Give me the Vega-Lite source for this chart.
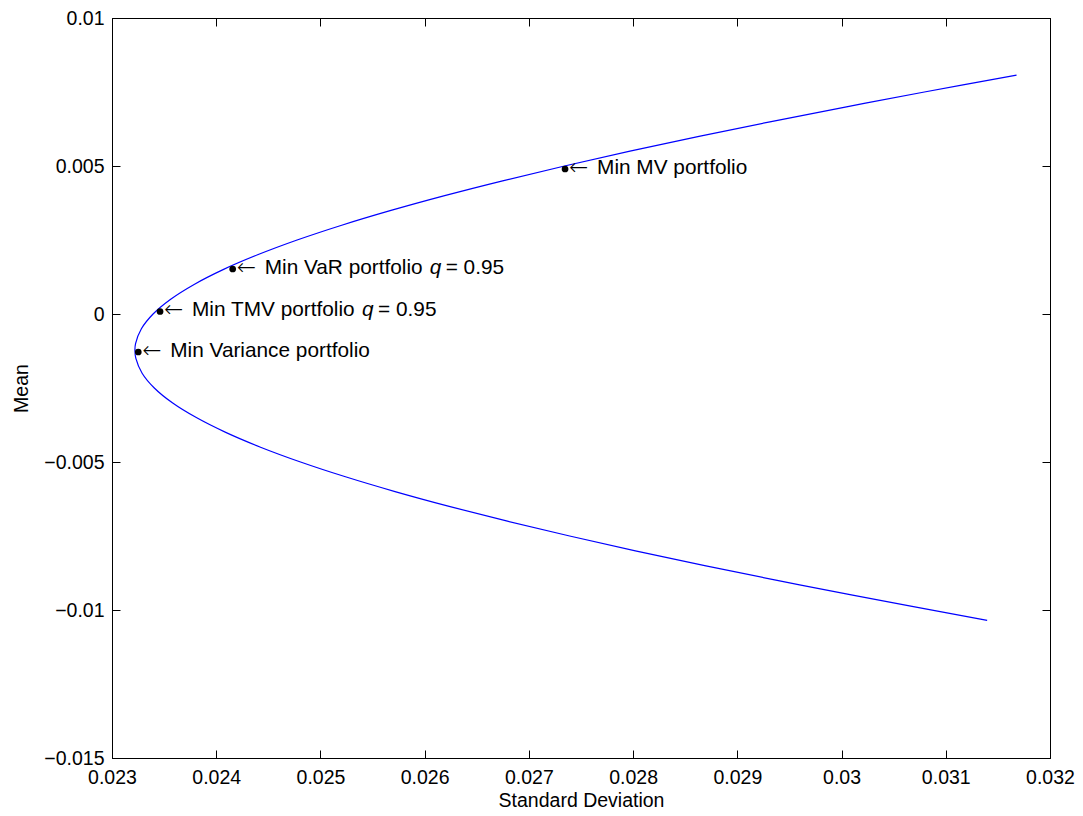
{
  "$schema": "https://vega.github.io/schema/vega-lite/v6.json",
  "width": 938,
  "height": 740,
  "autosize": {"type": "none"},
  "padding": {"left": 112, "top": 18, "right": 33, "bottom": 58},
  "background": "white",
  "config": {
    "view": {"stroke": "black", "strokeWidth": 1},
    "font": "Liberation Sans",
    "axis": {
      "domainColor": "black",
      "tickColor": "black",
      "labelColor": "black",
      "titleColor": "black",
      "labelFont": "Liberation Sans",
      "titleFont": "Liberation Sans",
      "labelFontSize": 19.5,
      "titleFontSize": 19.5,
      "titleFontWeight": "normal",
      "grid": false,
      "tickSize": -8,
      "labelPadding": 16
    }
  },
  "datasets": {
    "curve": [
      {"i": 1, "sd": 0.031397, "mean": -0.01035},
      {"i": 2, "sd": 0.030106, "mean": -0.0095},
      {"i": 3, "sd": 0.029382, "mean": -0.009},
      {"i": 4, "sd": 0.028687, "mean": -0.0085},
      {"i": 5, "sd": 0.028022, "mean": -0.008},
      {"i": 6, "sd": 0.027391, "mean": -0.0075},
      {"i": 7, "sd": 0.026794, "mean": -0.007},
      {"i": 8, "sd": 0.026235, "mean": -0.0065},
      {"i": 9, "sd": 0.025716, "mean": -0.006},
      {"i": 10, "sd": 0.025240, "mean": -0.0055},
      {"i": 11, "sd": 0.024809, "mean": -0.005},
      {"i": 12, "sd": 0.024425, "mean": -0.0045},
      {"i": 13, "sd": 0.024091, "mean": -0.004},
      {"i": 14, "sd": 0.023809, "mean": -0.0035},
      {"i": 15, "sd": 0.023579, "mean": -0.003},
      {"i": 16, "sd": 0.023406, "mean": -0.0025},
      {"i": 17, "sd": 0.023289, "mean": -0.002},
      {"i": 18, "sd": 0.023229, "mean": -0.0015},
      {"i": 19, "sd": 0.023220, "mean": -0.00123},
      {"i": 20, "sd": 0.023226, "mean": -0.001},
      {"i": 21, "sd": 0.023282, "mean": -0.0005},
      {"i": 22, "sd": 0.023394, "mean": 0.0},
      {"i": 23, "sd": 0.023563, "mean": 0.0005},
      {"i": 24, "sd": 0.023788, "mean": 0.001},
      {"i": 25, "sd": 0.024066, "mean": 0.0015},
      {"i": 26, "sd": 0.024397, "mean": 0.002},
      {"i": 27, "sd": 0.024776, "mean": 0.0025},
      {"i": 28, "sd": 0.025204, "mean": 0.003},
      {"i": 29, "sd": 0.025677, "mean": 0.0035},
      {"i": 30, "sd": 0.026192, "mean": 0.004},
      {"i": 31, "sd": 0.026748, "mean": 0.0045},
      {"i": 32, "sd": 0.027342, "mean": 0.005},
      {"i": 33, "sd": 0.027970, "mean": 0.0055},
      {"i": 34, "sd": 0.028632, "mean": 0.006},
      {"i": 35, "sd": 0.029325, "mean": 0.0065},
      {"i": 36, "sd": 0.030047, "mean": 0.007},
      {"i": 37, "sd": 0.030795, "mean": 0.0075},
      {"i": 38, "sd": 0.031679, "mean": 0.00807}
    ],
    "pts": [
      {"name": "MV", "sd": 0.027347, "mean": 0.004899, "label": "Min MV portfolio"},
      {"name": "VaR", "sd": 0.024158, "mean": 0.00152, "label": "Min VaR portfolio"},
      {"name": "TMV", "sd": 0.023461, "mean": 0.0000845, "label": "Min TMV portfolio"},
      {"name": "MinVar", "sd": 0.023252, "mean": -0.001284, "label": "Min Variance portfolio"}
    ]
  },
  "resolve": {"axis": {"x": "independent", "y": "independent"}},
  "layer": [
    {
      "data": {"name": "curve"},
      "mark": {"type": "line", "color": "#0000ff", "strokeWidth": 1.2, "interpolate": "catmull-rom", "clip": true},
      "encoding": {
        "x": {
          "field": "sd", "type": "quantitative",
          "scale": {"domain": [0.023, 0.032], "nice": false, "zero": false},
          "axis": {
            "orient": "bottom",
            "values": [0.023, 0.024, 0.025, 0.026, 0.027, 0.028, 0.029, 0.03, 0.031, 0.032],
            "format": ".3~f",
            "title": "Standard Deviation",
            "labelPadding": 18,
            "titlePadding": 5,
            "labelFlush": false,
            "labelOverlap": false
          }
        },
        "y": {
          "field": "mean", "type": "quantitative",
          "scale": {"domain": [-0.015, 0.01], "nice": false, "zero": false},
          "axis": {
            "orient": "left",
            "values": [-0.015, -0.01, -0.005, 0, 0.005, 0.01],
            "format": ".3~f",
            "title": "Mean",
            "titlePadding": 12,
            "labelFlush": false,
            "labelOverlap": false
          }
        },
        "order": {"field": "i", "type": "quantitative"}
      }
    },
    {
      "data": {"name": "pts"},
      "mark": {"type": "circle", "color": "black", "opacity": 1, "size": 45},
      "encoding": {
        "x": {
          "field": "sd", "type": "quantitative",
          "scale": {"domain": [0.023, 0.032], "nice": false, "zero": false},
          "axis": {
            "orient": "top",
            "values": [0.023, 0.024, 0.025, 0.026, 0.027, 0.028, 0.029, 0.03, 0.031, 0.032],
            "labels": false, "title": null
          }
        },
        "y": {
          "field": "mean", "type": "quantitative",
          "scale": {"domain": [-0.015, 0.01], "nice": false, "zero": false},
          "axis": {
            "orient": "right",
            "values": [-0.015, -0.01, -0.005, 0, 0.005, 0.01],
            "labels": false, "title": null
          }
        }
      }
    },
    {
      "data": {"name": "pts"},
      "mark": {"type": "text", "align": "left", "baseline": "middle", "dx": 4, "dy": -1, "fontSize": 23, "font": "DejaVu Sans", "fontWeight": 200, "color": "black", "text": "←"},
      "encoding": {
        "x": {"field": "sd", "type": "quantitative", "axis": null},
        "y": {"field": "mean", "type": "quantitative", "axis": null}
      }
    },
    {
      "data": {"name": "pts"},
      "mark": {"type": "text", "align": "left", "baseline": "middle", "dx": 32, "dy": -1, "fontSize": 20.8, "font": "Liberation Sans", "color": "black"},
      "encoding": {
        "x": {"field": "sd", "type": "quantitative", "axis": null},
        "y": {"field": "mean", "type": "quantitative", "axis": null},
        "text": {"field": "label"}
      }
    },
    {
      "data": {"name": "pts"},
      "transform": [{"filter": "datum.name === 'VaR'"}],
      "layer": [
        {
          "mark": {"type": "text", "align": "left", "baseline": "middle", "dx": 197, "dy": -1, "fontSize": 20.8, "fontStyle": "italic", "font": "Liberation Sans", "color": "black", "text": "q"},
          "encoding": {
            "x": {"field": "sd", "type": "quantitative", "axis": null},
            "y": {"field": "mean", "type": "quantitative", "axis": null}
          }
        },
        {
          "mark": {"type": "text", "align": "left", "baseline": "middle", "dx": 213, "dy": -1, "fontSize": 20.8, "font": "Liberation Sans", "color": "black", "text": "= 0.95"},
          "encoding": {
            "x": {"field": "sd", "type": "quantitative", "axis": null},
            "y": {"field": "mean", "type": "quantitative", "axis": null}
          }
        }
      ]
    },
    {
      "data": {"name": "pts"},
      "transform": [{"filter": "datum.name === 'TMV'"}],
      "layer": [
        {
          "mark": {"type": "text", "align": "left", "baseline": "middle", "dx": 202, "dy": -1, "fontSize": 20.8, "fontStyle": "italic", "font": "Liberation Sans", "color": "black", "text": "q"},
          "encoding": {
            "x": {"field": "sd", "type": "quantitative", "axis": null},
            "y": {"field": "mean", "type": "quantitative", "axis": null}
          }
        },
        {
          "mark": {"type": "text", "align": "left", "baseline": "middle", "dx": 218, "dy": -1, "fontSize": 20.8, "font": "Liberation Sans", "color": "black", "text": "= 0.95"},
          "encoding": {
            "x": {"field": "sd", "type": "quantitative", "axis": null},
            "y": {"field": "mean", "type": "quantitative", "axis": null}
          }
        }
      ]
    }
  ]
}
